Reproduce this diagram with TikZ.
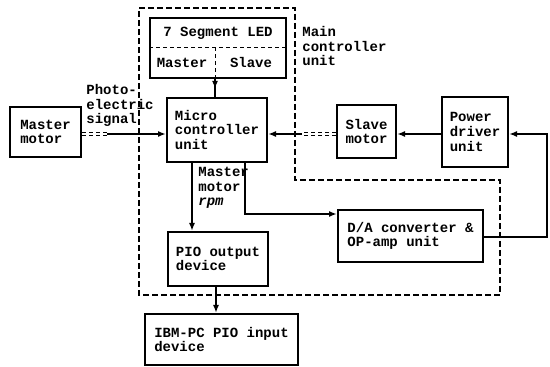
\documentclass[tikz,border=0pt]{standalone}
\usepackage{fontspec}
\setmainfont{Liberation Mono}
\usetikzlibrary{arrows.meta,decorations.markings}
\newdimen\pxu \pxu=0.5pt
\begin{document}
\begin{tikzpicture}[x=0.5pt,y=-0.5pt,
  txt/.style={font=\fontsize{7}{7.3}\selectfont\bfseries, align=left, inner sep=0pt},
  box/.style={draw, line width=1pt, txt},
  sig/.style={line width=1.3pt, -{Latex[length=4pt,width=3pt]}},
  dsig/.style={line width=0.5pt, double, double distance=1pt, dash pattern=on 2pt off 1.5pt},
  bound/.style={line width=0.8pt, dash pattern=on 3pt off 1.5pt},
  midarrow/.style={line width=1.3pt, postaction={decorate}, decoration={markings, mark=at position 0.55 with {\arrow{Latex[length=4pt,width=3pt]}}}}]
\useasboundingbox (0,0) rectangle (550,367);

% main controller boundary
\draw[bound] (139,8) -- (295,8) -- (295,180) -- (500,180) -- (500,295) -- (139,295) -- cycle;

% boxes
\node[box, minimum width=71\pxu, minimum height=50\pxu] (master) at (45.5,132) {Master\\motor};
\node[box, minimum width=100\pxu, minimum height=64\pxu] (micro) at (217,130) {Micro\\controller\\unit};
\node[box, minimum width=136\pxu, minimum height=60\pxu] (led) at (218,48) {};
\node[txt] (ledt) at (218,33) {7 Segment LED};
\node[txt] (ledm) at (182,63) {Master};
\node[txt] (leds) at (251,63) {Slave};
\draw[line width=0.5pt, dash pattern=on 2pt off 1.5pt] (led.west |- 0,48) -- (led.east |- 0,48);
\draw[line width=0.5pt, dash pattern=on 2pt off 1.5pt] (led.south -| 215,0) -- (215,48);
\node[box, minimum width=59\pxu, minimum height=53\pxu] (slave) at (366.5,131.5) {Slave\\motor};
\node[box, minimum width=66\pxu, minimum height=70\pxu] (power) at (475,132) {Power\\driver\\unit};
\node[box, minimum width=145\pxu, minimum height=52\pxu] (da) at (410.5,236) {D/A converter \&\\OP-amp unit};
\node[box, minimum width=100\pxu, minimum height=54\pxu] (pio) at (218,259) {PIO output\\device};
\node[box, minimum width=153\pxu, minimum height=51\pxu] (ibm) at (221.5,339.5) {IBM-PC PIO input\\device};

% labels
\node[txt, anchor=north west] (photo) at (86,84) {Photo-\\electric\\signal};
\node[txt, anchor=north west] (mainl) at (302,26) {Main\\controller\\unit};
\node[txt, anchor=north west] (rpm) at (198,167) {Master\\motor\\\textit{rpm}};

% connectors
\coordinate (pm) at (107,134);
\draw[dsig] (master.east |- pm) -- (pm);
\draw[sig] (pm) -- (micro.west |- pm);

\coordinate (ps) at (302,134);
\draw[dsig] (slave.west |- ps) -- (ps);
\draw[sig] (ps) -- (micro.east |- ps);

\draw[sig] (power.west |- ps) -- (slave.east |- ps);

\coordinate (cr) at (547,237);
\draw[sig] (da.east |- cr) -- (cr) |- (power.east |- ps);

\coordinate (cd) at (245,214);
\draw[sig] (micro.south -| cd) |- (da.west |- cd);

\coordinate (cp) at (192,200);
\draw[sig] (micro.south -| cp) -- (pio.north -| cp);

\draw[midarrow] (led.south -| 215,0) -- (micro.north -| 215,0);

\draw[sig] (pio.south -| 216,0) -- (ibm.north -| 216,0);
\end{tikzpicture}
\end{document}
